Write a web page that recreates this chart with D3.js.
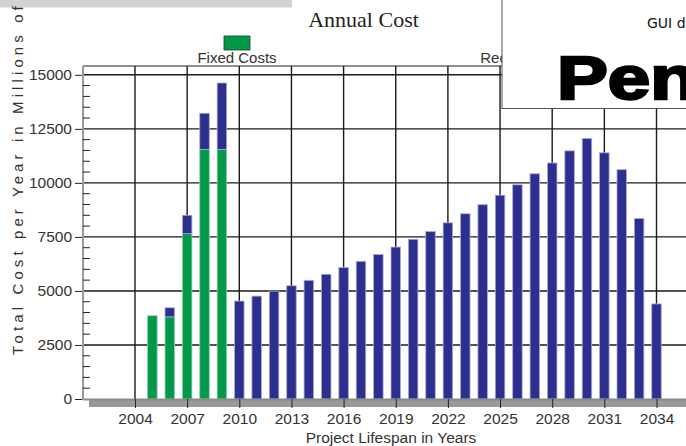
<!DOCTYPE html>
<html><head><meta charset="utf-8">
<script src="https://cdn.jsdelivr.net/npm/d3@7/dist/d3.min.js"></script>
<style>
html,body{margin:0;padding:0;background:#fff;overflow:hidden;}
svg{display:block;}
text{font-family:"Liberation Sans",Arial,sans-serif;}
</style></head>
<body>
<svg id="c" width="686" height="446"></svg>
<script>
const years = [2005,2006,2007,2008,2009,2010,2011,2012,2013,2014,2015,2016,2017,2018,2019,2020,2021,2022,2023,2024,2025,2026,2027,2028,2029,2030,2031,2032,2033,2034];
const fixedCosts = [3850,3800,7650,11550,11550,0,0,0,0,0,0,0,0,0,0,0,0,0,0,0,0,0,0,0,0,0,0,0,0,0];
const totalCosts = [3850,4220,8500,13220,14620,4530,4760,4990,5240,5490,5770,6080,6370,6690,7030,7390,7750,8150,8570,8990,9430,9910,10420,10920,11480,12050,11390,10610,8350,4400];
const recurringCosts = totalCosts.map((t,i)=>t-fixedCosts[i]);
const yTicks = [0,2500,5000,7500,10000,12500,15000];
const xTicks = [2004,2007,2010,2013,2016,2019,2022,2025,2028,2031,2034];
const seriesNames = ["Fixed Costs","Recurring Costs"];
const colors = {"Fixed Costs":"#03994b","Recurring Costs":"#2d2f8e"};
const edge = {"Fixed Costs":"#8fd1a8","Recurring Costs":"#a9abd8"};

(function(){
const svg = d3.select("#c");
const pL = 83, pR = 686, pT = 66, pB = 399;
const x = d3.scaleLinear().domain([2004,2034]).range([135,656.5]);
const y = d3.scaleLinear().domain([0,15000]).range([399,74.8]);
const txt = "#333";

// top grey strip
svg.append("rect").attr("x",0).attr("y",0).attr("width",292).attr("height",7.5).attr("fill","#d3d3d3");

// title
svg.append("text").attr("x",363.5).attr("y",27).attr("text-anchor","middle")
  .style("font-family","'Liberation Serif','Times New Roman',serif").style("font-size","22px").style("fill","#222")
  .text("Annual Cost");

// legend
const legX = [237, 534];
seriesNames.forEach((s,i)=>{
  svg.append("rect").attr("x",legX[i]-13).attr("y",36).attr("width",26).attr("height",14)
    .attr("fill",colors[s]).attr("stroke","#1f3a2a").attr("stroke-width",0.8);
  svg.append("text").attr("x",legX[i]).attr("y",62.5).attr("text-anchor","middle")
    .style("font-size","15px").style("fill",txt).text(s);
});

// grid
const g = svg.append("g");
g.append("line").attr("x1",pL).attr("x2",pR).attr("y1",pT).attr("y2",pT).attr("stroke","#222").attr("stroke-width",1);
yTicks.filter(v=>v>0).forEach(v=>{
  g.append("line").attr("x1",pL).attr("x2",pR).attr("y1",y(v)).attr("y2",y(v)).attr("stroke","#1a1a1a").attr("stroke-width",1.4);
});
xTicks.forEach(v=>{
  g.append("line").attr("x1",x(v)).attr("x2",x(v)).attr("y1",pT).attr("y2",pB).attr("stroke","#1a1a1a").attr("stroke-width",1.4);
});

// floor
svg.append("rect").attr("x",89).attr("y",400).attr("width",pR-89).attr("height",7).attr("fill","#999");

// bars
const bw = 9.5;
const stackData = years.map((yr,i)=>({year:yr, "Fixed Costs":fixedCosts[i], "Recurring Costs":recurringCosts[i]}));
const stack = d3.stack().keys(seriesNames)(stackData);
stack.forEach(layer=>{
  svg.append("g").selectAll("rect").data(layer.filter(d=>d[1]-d[0]>0)).join("rect")
    .attr("x",d=>x(d.data.year)-bw/2).attr("width",bw)
    .attr("y",d=>y(d[1])).attr("height",d=>y(d[0])-y(d[1]))
    .attr("fill",colors[layer.key]).attr("stroke",edge[layer.key]).attr("stroke-width",0.8);
});

// axis lines
svg.append("line").attr("x1",pL).attr("x2",pR).attr("y1",399.5).attr("y2",399.5).attr("stroke","#8a8a8a").attr("stroke-width",2);
svg.append("line").attr("x1",pL).attr("x2",pL).attr("y1",pT).attr("y2",400).attr("stroke","#9a9a9a").attr("stroke-width",2);

// y axis
const yAxis = d3.axisLeft(y).tickValues(yTicks).tickSize(7).tickPadding(3).tickFormat(d3.format("d"));
const ya = svg.append("g").attr("transform",`translate(${pL-1},0)`).call(yAxis);
ya.select(".domain").remove();
ya.selectAll("line").attr("stroke","#222");
ya.selectAll("text").style("font-size","15.5px").style("font-family","'Liberation Sans',Arial,sans-serif").style("fill",txt);
// minor ticks
const minor = d3.range(0,15001,500).filter(v=>v%2500!==0);
svg.append("g").selectAll("line").data(minor).join("line")
  .attr("x1",pL).attr("x2",pL+7).attr("y1",d=>y(d)).attr("y2",d=>y(d)).attr("stroke","#222").attr("stroke-width",1);

// x axis
const xAxis = d3.axisBottom(x).tickValues(xTicks).tickSize(9).tickPadding(5).tickFormat(d3.format("d"));
const xa = svg.append("g").attr("transform","translate(0,399)").call(xAxis);
xa.select(".domain").remove();
xa.selectAll("line").attr("stroke","#222");
xa.selectAll("text").style("font-size","15.5px").style("font-family","'Liberation Sans',Arial,sans-serif").style("fill",txt);

// axis titles
svg.append("text").attr("x",391).attr("y",443).attr("text-anchor","middle").style("font-size","15.5px").style("fill",txt).text("Project Lifespan in Years");
svg.append("text").attr("transform","translate(23,355) rotate(-90)").attr("text-anchor","start")
  .style("font-size","15px").style("letter-spacing","4.1px").style("fill",txt).text("Total Cost per Year in Millions of Dollars");

// overlay window
const win = svg.append("g");
win.append("rect").attr("x",502).attr("y",-2).attr("width",200).attr("height",110.5).attr("fill","#fff").attr("stroke","#555").attr("stroke-width",1);
win.append("text").attr("x",647).attr("y",27.5).style("font-family","'DejaVu Sans',sans-serif").style("font-size","14px").style("fill","#111").text("GUI d");
win.append("text").attr("transform","translate(557,99) scale(1.25,1)").style("font-family","'Liberation Sans',Arial,sans-serif")
  .style("font-weight","bold").style("font-size","61px").style("fill","#000").attr("stroke","#000").attr("stroke-width",2.5).text("Pen");
})();
</script>
</body></html>
